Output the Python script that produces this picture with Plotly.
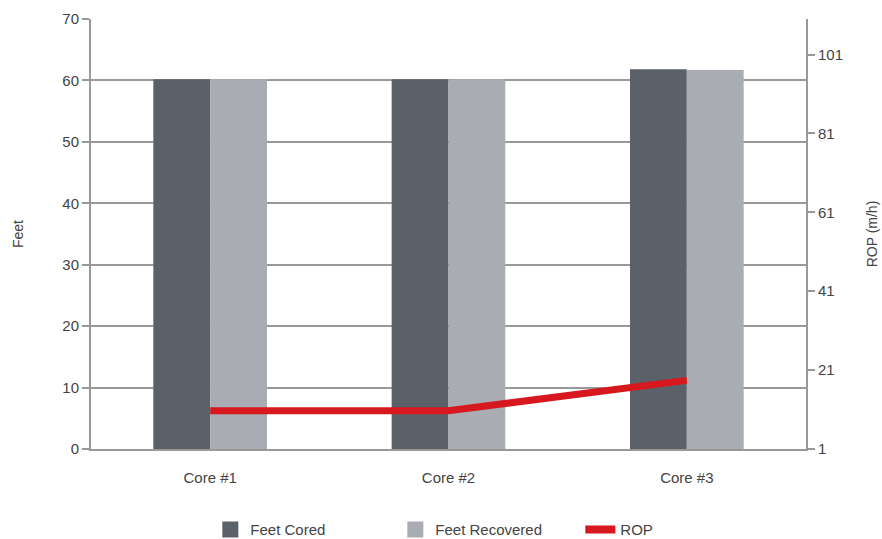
import plotly.graph_objects as go

categories = ["Core #1", "Core #2", "Core #3"]
feet_cored = [60.2, 60.2, 61.8]
feet_recovered = [60.2, 60.2, 61.7]
rop = [10.7, 10.7, 18.4]

DARK = "#5a6169"
LIGHT = "#a9adb3"
RED = "#d7191f"
GRID = "#999999"
TXT = "#444444"
FONT = "Liberation Sans"

fig = go.Figure()
fig.add_trace(go.Bar(name="Feet Cored", x=categories, y=feet_cored, marker_color=DARK,
                     marker_line_width=0, showlegend=False))
fig.add_trace(go.Bar(name="Feet Recovered", x=categories, y=feet_recovered, marker_color=LIGHT,
                     marker_line_width=0, showlegend=False))
fig.add_trace(go.Scatter(name="ROP", x=categories, y=rop, mode="lines", yaxis="y2",
                         line=dict(color=RED, width=7), showlegend=False))
# legend entries
fig.add_trace(go.Scatter(name="Feet Cored", x=[None], y=[None], mode="markers",
                         marker=dict(symbol="square", size=20, color=DARK)))
fig.add_trace(go.Scatter(name="Feet Recovered", x=[None], y=[None], mode="markers",
                         marker=dict(symbol="square", size=20, color=LIGHT)))
fig.add_trace(go.Scatter(name="ROP", x=[None], y=[None], mode="lines", yaxis="y2",
                         line=dict(color=RED, width=8)))

fig.update_layout(
    width=882, height=539,
    margin=dict(l=91, r=76, t=19, b=90),
    paper_bgcolor="white", plot_bgcolor="white",
    barmode="group", bargap=0.523, bargroupgap=0,
    font=dict(family=FONT, size=14, color=TXT),
    showlegend=True,
    legend=dict(orientation="h", x=0.555, xanchor="center", yref="container", y=0.017,
                yanchor="middle", font=dict(size=15, color=TXT), entrywidth=140,
                traceorder="normal"),
    xaxis=dict(showline=True, linecolor=GRID, linewidth=2, ticks="", showgrid=False,
               tickfont=dict(size=15, color=TXT), ticklabelstandoff=14, automargin=False),
    yaxis=dict(title=dict(text="Feet", font=dict(size=14, color=TXT), standoff=35),
               range=[0, 70], dtick=10, showline=True, linecolor=GRID, linewidth=2,
               ticks="outside", ticklen=7, tickcolor=GRID, tickwidth=2,
               showgrid=True, gridcolor=GRID, gridwidth=2, zeroline=False,
               tickfont=dict(size=15, color=TXT), automargin=False),
    yaxis2=dict(title=dict(text="ROP (m/h)", font=dict(size=14, color=TXT), standoff=25),
                overlaying="y", side="right", range=[1, 110], tick0=1, dtick=20,
                showline=True, linecolor=GRID, linewidth=2,
                ticks="outside", ticklen=7, tickcolor=GRID, tickwidth=2,
                showgrid=False, zeroline=False,
                tickfont=dict(size=15, color=TXT), automargin=False),
)

fig.write_html("out.html")
